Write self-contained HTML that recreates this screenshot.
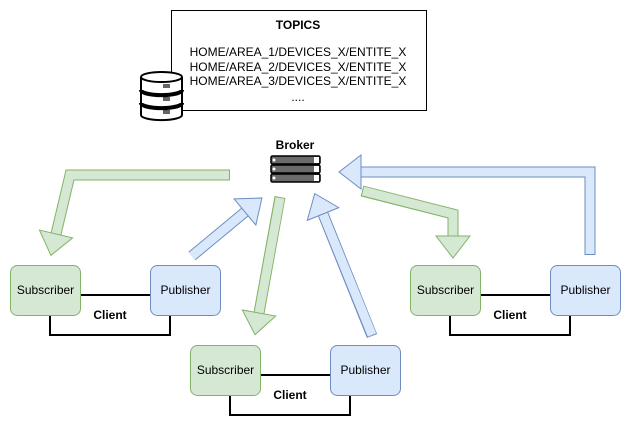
<!DOCTYPE html>
<html><head><meta charset="utf-8"><style>
body{margin:0;background:#fff;}
svg text{font-family:"Liberation Sans",Arial,sans-serif;font-size:12px;fill:#000;}
</style></head><body>
<svg width="638" height="433" viewBox="0 0 638 433" xmlns="http://www.w3.org/2000/svg">
<defs>
<marker id="hg" markerUnits="userSpaceOnUse" markerWidth="40" markerHeight="40" refX="1" refY="20" orient="auto" viewBox="0 0 40 40">
<path d="M1,3 L23,20 L1,37 Z" fill="#d5e8d4" stroke="#82b366" stroke-width="1"/></marker>
<marker id="hb" markerUnits="userSpaceOnUse" markerWidth="40" markerHeight="40" refX="1" refY="20" orient="auto" viewBox="0 0 40 40">
<path d="M1,3 L23,20 L1,37 Z" fill="#dae8fc" stroke="#6c8ebf" stroke-width="1"/></marker>
</defs>
<!-- Topics -->
<rect x="171.5" y="10.5" width="255" height="100" fill="#fff" stroke="#000"/>
<text x="298" y="29" text-anchor="middle" font-weight="bold">TOPICS</text>
<text x="298" y="56" text-anchor="middle">HOME/AREA_1/DEVICES_X/ENTITE_X</text>
<text x="298" y="71" text-anchor="middle">HOME/AREA_2/DEVICES_X/ENTITE_X</text>
<text x="298" y="85" text-anchor="middle">HOME/AREA_3/DEVICES_X/ENTITE_X</text>
<text x="298" y="101" text-anchor="middle">....</text>
<!-- DB -->
<g stroke="#000" stroke-width="2" fill="#fff">
<path d="M141,77 v38 a20,5 0 0 0 41,0 v-38"/>
<ellipse cx="161.5" cy="77" rx="20.5" ry="5"/>
<path d="M141,90 a20,5 0 0 0 41,0" fill="none" stroke-width="4"/>
<path d="M141,103 a20,5 0 0 0 41,0" fill="none" stroke-width="4"/>
</g>
<g stroke="#000" stroke-width="1.2"><line x1="163" y1="85" x2="170" y2="85"/><line x1="163" y1="87" x2="170" y2="87"/><line x1="163" y1="98" x2="170" y2="98"/><line x1="163" y1="100" x2="170" y2="100"/><line x1="163" y1="111" x2="170" y2="111"/><line x1="163" y1="113" x2="170" y2="113"/></g>
<!-- Broker -->
<text x="295" y="149" text-anchor="middle" font-weight="bold">Broker</text>
<g>
<rect x="271" y="156" width="49" height="8" rx="1.5" fill="#6b6b6b" stroke="#000" stroke-width="1.5"/>
<rect x="271" y="165" width="49" height="8" rx="1.5" fill="#6b6b6b" stroke="#000" stroke-width="1.5"/>
<rect x="271" y="174" width="49" height="8" rx="1.5" fill="#6b6b6b" stroke="#000" stroke-width="1.5"/>
<g fill="#fff"><circle cx="274" cy="160" r="1.5"/><circle cx="274" cy="169" r="1.5"/><circle cx="274" cy="178" r="1.5"/>
<path d="M314,157 h5 v6 h-5 z M314,166 h5 v6 h-5 z M314,175 h5 v6 h-5 z"/></g>
</g>
<!-- arrows -->
<g fill="none" stroke-linejoin="miter">
<path d="M230,175 L70,175 L56,234" stroke="#82b366" stroke-width="11"/>
<path d="M229,175 L70,175 L56,234" stroke="#d5e8d4" stroke-width="9" marker-end="url(#hg)"/>
<path d="M192,256 L245,212" stroke="#6c8ebf" stroke-width="11"/>
<path d="M192,256 L245,212" stroke="#dae8fc" stroke-width="9" marker-end="url(#hb)"/>
<path d="M280,197 L259,313" stroke="#82b366" stroke-width="11"/>
<path d="M280,198 L259,313" stroke="#d5e8d4" stroke-width="9" marker-end="url(#hg)"/>
<path d="M372,336 L323,214" stroke="#6c8ebf" stroke-width="11"/>
<path d="M372,335 L323,214" stroke="#dae8fc" stroke-width="9" marker-end="url(#hb)"/>
<path d="M362,191 L453,214 L453,236" stroke="#82b366" stroke-width="11"/>
<path d="M363,191 L453,214 L453,236" stroke="#d5e8d4" stroke-width="9" marker-end="url(#hg)"/>
<path d="M590,255 L590,172 L361,172" stroke="#6c8ebf" stroke-width="11"/>
<path d="M590,254 L590,172 L361,172" stroke="#dae8fc" stroke-width="9" marker-end="url(#hb)"/>
</g>
<!-- clients -->
<g stroke="#000" stroke-width="2" fill="#fff">
<rect x="50" y="295" width="120" height="40"/>
<rect x="450" y="295" width="120" height="40"/>
<rect x="230" y="375" width="120" height="40"/>
</g>
<text x="110" y="319" text-anchor="middle" font-weight="bold">Client</text>
<text x="510" y="319" text-anchor="middle" font-weight="bold">Client</text>
<text x="290" y="399" text-anchor="middle" font-weight="bold">Client</text>
<g stroke-width="1">
<rect x="10.5" y="265.5" width="70" height="50" rx="7" fill="#d5e8d4" stroke="#82b366"/>
<rect x="150.5" y="265.5" width="70" height="50" rx="7" fill="#dae8fc" stroke="#6c8ebf"/>
<rect x="410.5" y="265.5" width="70" height="50" rx="7" fill="#d5e8d4" stroke="#82b366"/>
<rect x="550.5" y="265.5" width="70" height="50" rx="7" fill="#dae8fc" stroke="#6c8ebf"/>
<rect x="190.5" y="345.5" width="70" height="50" rx="7" fill="#d5e8d4" stroke="#82b366"/>
<rect x="330.5" y="345.5" width="70" height="50" rx="7" fill="#dae8fc" stroke="#6c8ebf"/>
</g>
<text x="45.5" y="294" text-anchor="middle">Subscriber</text>
<text x="185.5" y="294" text-anchor="middle">Publisher</text>
<text x="445.5" y="294" text-anchor="middle">Subscriber</text>
<text x="585.5" y="294" text-anchor="middle">Publisher</text>
<text x="225.5" y="374" text-anchor="middle">Subscriber</text>
<text x="365.5" y="374" text-anchor="middle">Publisher</text>
</svg>
</body></html>
